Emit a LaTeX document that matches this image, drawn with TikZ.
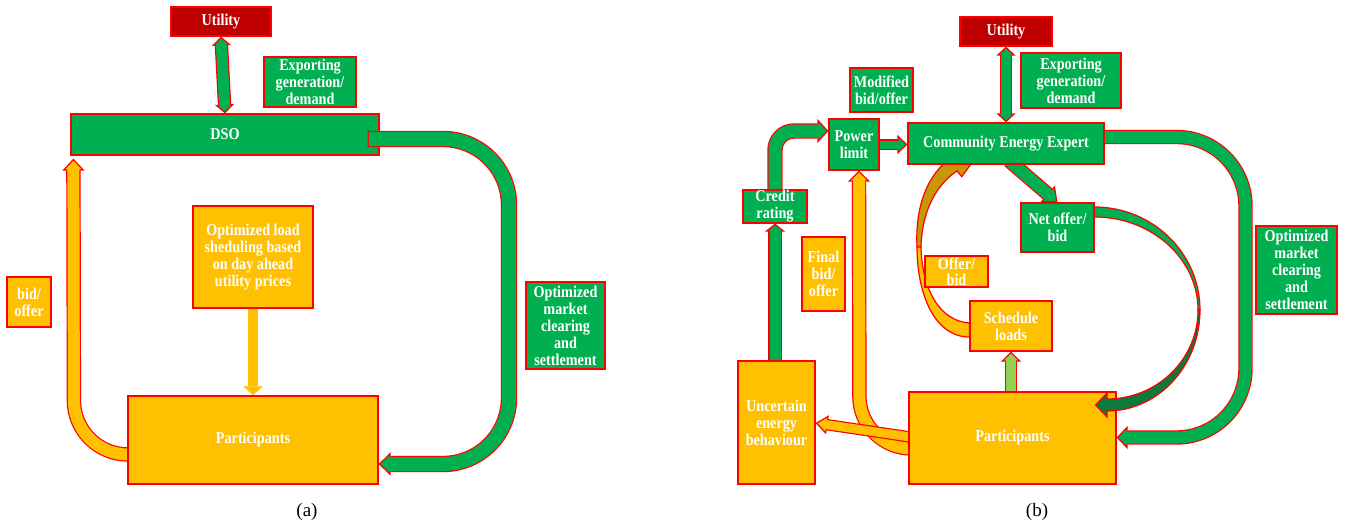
\documentclass[tikz,border=0pt]{standalone}
\usepackage{fontspec}
\setmainfont{Liberation Serif}
\newfontfamily\boxfont{Liberation Serif}[FakeStretch=0.86]
\usetikzlibrary{arrows.meta,calc}
\definecolor{pgreen}{HTML}{00B050}
\definecolor{porange}{HTML}{FFC000}
\definecolor{pdred}{HTML}{C00000}
\definecolor{pdgreen}{HTML}{0B7A3A}
\definecolor{plgreen}{HTML}{92D050}
\definecolor{pgold}{HTML}{C8960A}
\definecolor{pborder}{HTML}{FF0000}
\pgfdeclarelayer{bg}
\pgfsetlayers{bg,main}
% fill colour, shaft width, head width, head length, path
\newcommand\blockarrow[5]{%
  \draw[pborder, line width=#2+2.4pt, -{Triangle[width=#3, length=#4, fill=#1, line width=1.2pt]}] #5;
  \draw[#1, line width=#2, shorten >=#4-2.5pt, shorten <=1.2pt] #5;
}
\newcommand\dblarrow[5]{%
  \draw[pborder, line width=#2+2.4pt, {Triangle[width=#3, length=#4, fill=#1, line width=1.2pt]}-{Triangle[width=#3, length=#4, fill=#1, line width=1.2pt]}] #5;
  \draw[#1, line width=#2, shorten >=#4-2.5pt, shorten <=#4-2.5pt] #5;
}
\tikzset{
  box/.style={draw=pborder, line width=1.2pt, inner sep=0pt, align=center, text=white,
    font=\boxfont\fontsize{16.5}{17}\selectfont\bfseries},
  gbox/.style={box, fill=pgreen},
  obox/.style={box, fill=porange},
  rbox/.style={box, fill=pdred},
  shape edge/.style={draw=pborder, line width=1.2pt},
  caption/.style={font=\fontsize{19}{22}\selectfont, text=black, inner sep=0pt}
}
\begin{document}
\begin{tikzpicture}[x=1pt, y=-1pt]
\useasboundingbox (0,0) rectangle (1345,527);

% ---------------- panel (a) ----------------
\node[rbox, minimum width=100, minimum height=29] (utilA) at (221,21.5) {Utility};
\node[gbox, minimum width=92, minimum height=50] (expA) at (310,82) {Exporting\\generation/\\demand};
\node[gbox, minimum width=308, minimum height=41] (dso) at (225,134.5) {DSO};
\node[gbox, minimum width=79, minimum height=87] (optA) at (565.5,325.5) {Optimized\\market\\clearing\\and\\settlement};
\node[obox, minimum width=120, minimum height=102] (loadA) at (253,257) {Optimized load\\sheduling based\\on day ahead\\utility prices};
\node[obox, minimum width=250, minimum height=88] (partA) at (253,440) {Participants};
\node[obox, minimum width=44, minimum height=50] (bidA) at (29,302) {bid/\\offer};
\node[caption] (capA) at (307,512) {(a)};

% ---------------- panel (b) ----------------
\node[rbox, minimum width=92, minimum height=29] (utilB) at (1006,31.5) {Utility};
\node[gbox, minimum width=100, minimum height=55] (expB) at (1071,80.5) {Exporting\\generation/\\demand};
\node[gbox, minimum width=63, minimum height=44] (modB) at (881.5,90) {Modified\\bid/offer};
\node[gbox, minimum width=50, minimum height=51] (power) at (854,144.5) {Power\\limit};
\node[gbox, minimum width=196, minimum height=41] (cee) at (1006,143.5) {Community Energy Expert};
\node[gbox, minimum width=64, minimum height=33] (credit) at (775,206.5) {Credit\\rating};
\node[gbox, minimum width=73, minimum height=49] (net) at (1057.5,227.5) {Net offer/\\bid};
\node[gbox, minimum width=81, minimum height=88] (optB) at (1296.5,270) {Optimized\\market\\clearing\\and\\settlement};
\node[obox, minimum width=43, minimum height=74] (finalB) at (823.5,274) {Final\\bid/\\offer};
\node[obox, minimum width=63, minimum height=31, font=\boxfont\fontsize{16.5}{16}\selectfont\bfseries] (offerB) at (956.5,271.5) {Offer/\\bid};
\node[obox, minimum width=82, minimum height=50] (sched) at (1011,326) {Schedule\\loads};
\node[obox, minimum width=207, minimum height=92] (partB) at (1012.5,438) {Participants};
\node[obox, minimum width=77, minimum height=123] (unc) at (776.5,422.5) {Uncertain\\energy\\behaviour};
\node[caption] (capB) at (1037,512) {(b)};

\begin{pgfonlayer}{bg}
  % (a)
  \dblarrow{pgreen}{11pt}{19pt}{9pt}{(utilA.south) -- ($(utilA.south |- dso.north)+(4,0)$)}
  \blockarrow{porange}{12pt}{22pt}{12pt}{($(partA.west)+(20,14.5)$) [rounded corners=54pt] -- (74,454.5) -- ($(dso.south west)+(3,3)$)}
  \draw[porange, line width=10pt, -{Triangle[width=19pt, length=9pt, line width=0.1pt]}] (loadA.south) -- (partA.north);

  % (b)
  \dblarrow{pgreen}{10pt}{19pt}{9pt}{(utilB.south) -- (utilB.south |- cee.north)}
  \blockarrow{pgreen}{8pt}{19pt}{10pt}{($(power.east)+(-3,0)$) -- (power.east -| cee.west)}
  \blockarrow{pgreen}{13pt}{24pt}{11pt}{($(credit.north)+(0,3)$) [rounded corners=19pt] -- (775,131) -- ($(power.west)+(0,-13.5)$)}
  \blockarrow{pgreen}{11pt}{20pt}{8pt}{($(credit.south |- unc.north)+(0,3)$) -- (credit.south)}
  \blockarrow{porange}{12pt}{22pt}{11pt}{($(partB.west)+(20,10.5)$) [rounded corners=52pt] -- (859.5,448.5) -- ($(power.south)+(5,0)$)}
  \blockarrow{porange}{9pt}{19pt}{12pt}{($(partB.west)+(5,-0.5)$) -- ($(unc.east)+(0,0.5)$)}
  \blockarrow{plgreen}{10pt}{20pt}{10pt}{($(sched.south |- partB.north)+(0,3)$) -- (sched.south)}
  \blockarrow{pgreen}{12pt}{22pt}{13pt}{($(cee.south)+(3,-4)$) -- (net.north)}
  \blockarrow{pgreen}{12pt}{23pt}{11pt}{($(cee.east)+(-5,-6.5)$) [rounded corners=69pt] -- (1245.5,137) -- (1245.5,437.5) -- ($(partB.east)+(0,-0.5)$)}
  % Schedule loads -> CEE (curved, offer/bid)
  \filldraw[shape edge, fill=pgold] (917,247) .. controls (915,205) and (928,176) .. (948,160)
     -- (951.7,155) -- ($(cee.south west)+(63.7,-0.7)$) -- (961.7,176.7) -- (957,171)
     .. controls (937,184) and (922,210) .. (921,247) -- cycle;
  \filldraw[shape edge, fill=porange] (921,247) .. controls (922,290) and (940,321) .. ($(sched.west)+(0,-3)$)
     -- ($(sched.west)+(0,11)$) .. controls (935,337) and (917,295) .. (917,247) -- cycle;
\end{pgfonlayer}

% arrows drawn over the boxes
\blockarrow{pgreen}{14pt}{23pt}{12pt}{($(dso.east)+(-12,4.5)$) [rounded corners=66pt] -- (509,139) -- (509,464) -- ($(partA.east)+(0,24)$)}
% Net offer/bid -> Participants (curved)
\filldraw[shape edge, fill=pgreen] ($(net.east)+(0,-20.5)$) .. controls (1152.5,207) and (1200,253) .. (1200,310)
   -- (1198,310) .. controls (1198,258.6) and (1151.4,217) .. ($(net.east)+(0,-10.5)$) -- cycle;
\filldraw[shape edge, fill=pdgreen] (1200,310) .. controls (1200,365.8) and (1158.4,411) .. (1107,411)
   -- (1107,417) -- ($(partB.east)+(-21,-33)$) -- (1107,393) -- (1107,399)
   .. controls (1157.3,399) and (1198,359.2) .. (1198,310) -- cycle;
\end{tikzpicture}
\end{document}
